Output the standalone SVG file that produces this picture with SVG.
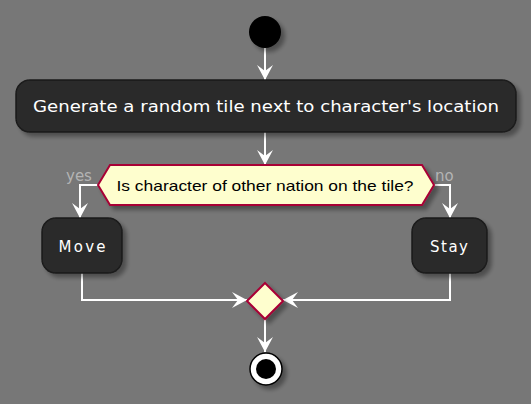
<svg xmlns="http://www.w3.org/2000/svg" width="531" height="404" viewBox="0 0 531 404">
<defs>
<filter id="sh" x="-20%" y="-20%" width="150%" height="160%">
<feGaussianBlur in="SourceAlpha" stdDeviation="2"/>
<feOffset dx="4" dy="4" result="b"/>
<feComponentTransfer><feFuncA type="linear" slope="0.35"/></feComponentTransfer>
<feMerge><feMergeNode/><feMergeNode in="SourceGraphic"/></feMerge>
</filter>
<marker id="ah" viewBox="-16 -9 17 18" markerWidth="17" markerHeight="18" refX="0" refY="0" orient="auto" markerUnits="userSpaceOnUse">
<path d="M0,0 L-15,-8 L-9,0 L-15,8 Z" fill="#ffffff"/>
</marker>
</defs>
<style>
.act{fill:#2c2c2c;stroke:#1a1a1a;stroke-width:1.5}
.atxt{fill:#ffffff;font-family:"DejaVu Sans",sans-serif;font-size:15px;text-anchor:middle}
.dec{fill:#fefece;stroke:#a80036;stroke-width:2}
.lbl{fill:#b4b4b4;font-family:"DejaVu Sans",sans-serif;font-size:15px}
.ln{fill:none;stroke:#ffffff;stroke-width:2;marker-end:url(#ah)}
</style>
<rect width="531" height="404" fill="#777777"/>
<g id="connectors">
<line class="ln" x1="265" y1="48" x2="265" y2="80"/>
<line class="ln" x1="265" y1="132" x2="265" y2="165"/>
<polyline class="ln" points="98,185 80,185 80,218"/>
<polyline class="ln" points="434,185 450,185 450,218"/>
<polyline class="ln" points="82,273 82,300 247,300"/>
<polyline class="ln" points="450,273 450,300 283,300"/>
<line class="ln" x1="265" y1="319" x2="265" y2="352"/>
</g>
<g id="start"><circle cx="265" cy="32" r="16" fill="#000000" filter="url(#sh)"/></g>
<g id="generate">
<rect class="act" x="16" y="80" width="500" height="52" rx="14" filter="url(#sh)"/>
<text class="atxt" x="266" y="112" textLength="466" lengthAdjust="spacingAndGlyphs">Generate a random tile next to character's location</text>
</g>
<g id="decision">
<polygon class="dec" points="98,185 110,165 422,165 434,185 422,205 110,205" filter="url(#sh)"/>
<text x="265" y="191" fill="#000000" font-family="Liberation Sans,Arial,sans-serif" font-size="15" text-anchor="middle" textLength="297" lengthAdjust="spacingAndGlyphs">Is character of other nation on the tile?</text>
<text class="lbl" x="66" y="181">yes</text>
<text class="lbl" x="435" y="181">no</text>
</g>
<g id="move">
<rect class="act" x="42" y="218" width="80" height="55" rx="14" filter="url(#sh)"/>
<text class="atxt" x="82" y="252" textLength="47" lengthAdjust="spacing">Move</text>
</g>
<g id="stay">
<rect class="act" x="412" y="218" width="75" height="55" rx="14" filter="url(#sh)"/>
<text class="atxt" x="449" y="252" textLength="38" lengthAdjust="spacing">Stay</text>
</g>
<g id="merge"><polygon class="dec" points="265,283 283,301 265,319 247,301" filter="url(#sh)"/></g>
<g id="end">
<circle cx="266" cy="369" r="16" fill="#ffffff" stroke="#000000" stroke-width="1.5" filter="url(#sh)"/>
<circle cx="266" cy="369" r="10" fill="#000000"/>
</g>
</svg>
